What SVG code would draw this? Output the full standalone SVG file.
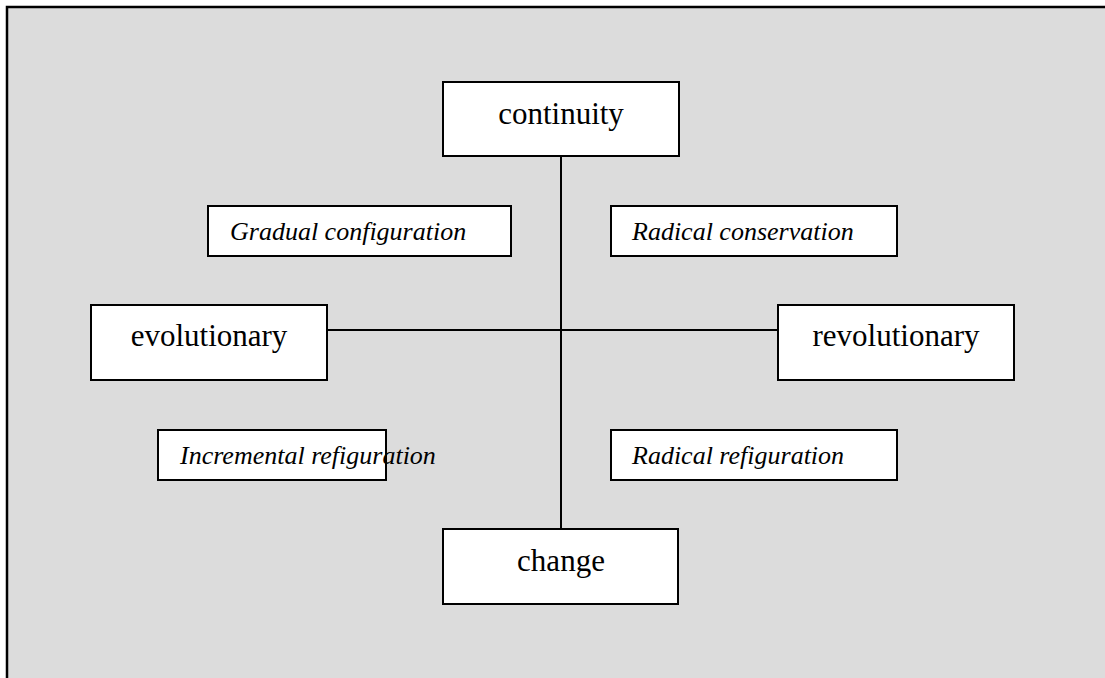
<svg xmlns="http://www.w3.org/2000/svg" width="1105" height="678" viewBox="0 0 1105 678">
<style>
.box{fill:#ffffff;stroke:#000000;stroke-width:2}
.main{font-family:"Liberation Serif","Times New Roman",serif;font-size:31px;fill:#000;text-anchor:middle}
.quad{font-family:"Liberation Serif","Times New Roman",serif;font-size:26px;font-style:italic;fill:#000}
.conn{stroke:#000;stroke-width:2;fill:none}
</style>
<rect x="0" y="0" width="1105" height="678" fill="#ffffff"/>
<rect x="7" y="7" width="1110" height="690" fill="#dcdcdc" stroke="#000" stroke-width="2.5"/>
<g id="connectors">
<line class="conn" x1="561" y1="156" x2="561" y2="529"/>
<line class="conn" x1="327" y1="330" x2="778" y2="330"/>
</g>
<g id="continuity">
<rect class="box" x="443" y="82" width="236" height="74"/>
<text class="main" x="561" y="124">continuity</text>
</g>
<g id="change">
<rect class="box" x="443" y="529" width="235" height="75"/>
<text class="main" x="561" y="571">change</text>
</g>
<g id="evolutionary">
<rect class="box" x="91" y="305" width="236" height="75"/>
<text class="main" x="209" y="346">evolutionary</text>
</g>
<g id="revolutionary">
<rect class="box" x="778" y="305" width="236" height="75"/>
<text class="main" x="896" y="346">revolutionary</text>
</g>
<g id="gradual">
<rect class="box" x="208" y="206" width="303" height="50"/>
<text class="quad" x="230" y="240">Gradual configuration</text>
</g>
<g id="radical-conservation">
<rect class="box" x="611" y="206" width="286" height="50"/>
<text class="quad" x="632" y="240">Radical conservation</text>
</g>
<g id="incremental">
<rect class="box" x="158" y="430" width="228" height="50"/>
<text class="quad" x="180" y="464">Incremental refiguration</text>
</g>
<g id="radical-refiguration">
<rect class="box" x="611" y="430" width="286" height="50"/>
<text class="quad" x="632" y="464">Radical refiguration</text>
</g>
</svg>
